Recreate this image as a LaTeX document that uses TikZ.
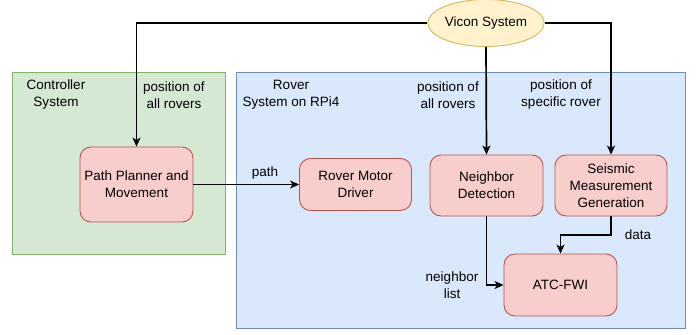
\documentclass[tikz,border=0pt]{standalone}
\usepackage{fontspec}
\setmainfont{Liberation Sans}
\usetikzlibrary{arrows.meta,shapes.geometric}
\definecolor{grfill}{HTML}{D5E8D4}\definecolor{grline}{HTML}{82B366}
\definecolor{blfill}{HTML}{DAE8FC}\definecolor{blline}{HTML}{6C8EBF}
\definecolor{rdfill}{HTML}{F8CECC}\definecolor{rdline}{HTML}{B85450}
\definecolor{ylfill}{HTML}{FFF2CC}\definecolor{ylline}{HTML}{D6B656}
\tikzset{
  txt/.style={font=\fontsize{13.5}{17}\selectfont, align=center, inner sep=0pt},
  group/.style={draw, line width=0.9pt, inner sep=0pt},
  block/.style={txt, draw=rdline, fill=rdfill, line width=0.9pt, rounded corners=11pt},
  conn/.style={line width=1.7pt, -{Stealth[length=9pt,width=8pt,inset=2.5pt]}},
  lbl/.style={txt}
}
\begin{document}
\begin{tikzpicture}[x=1pt,y=-1pt]
\useasboundingbox (0,0) rectangle (700,334);
% system frames
\draw[group, draw=grline, fill=grfill] (12,72) rectangle (225,254);
\draw[group, draw=blline, fill=blfill] (236,72) rectangle (685,328);
\node[lbl] (ctrl) at (56,95) {Controller\\System};
\node[lbl] (rover) at (291,95) {Rover\\System on RPi4};
% processing blocks
\node[block, minimum width=113pt, minimum height=75pt] (path) at (136.5,184.5) {Path Planner and\\Movement};
\node[block, minimum width=112pt, minimum height=52pt] (motor) at (355.5,184.5) {Rover Motor\\Driver};
\node[block, minimum width=113pt, minimum height=61pt] (neigh) at (486.5,185.5) {Neighbor\\Detection};
\node[block, minimum width=112pt, minimum height=61pt] (seis) at (611,185.5) {Seismic\\Measurement\\Generation};
\node[block, minimum width=113pt, minimum height=62pt] (atc) at (560.5,285) {ATC-FWI};
\node[txt, ellipse, draw=ylline, fill=ylfill, line width=0.9pt, minimum width=107pt, minimum height=47pt] (vicon) at (486,23) {Vicon System};
% connectors
\coordinate (bend) at (611,235);
\draw[conn] (vicon.west) -| (path.north);
\draw[conn] (vicon.south) -- (neigh.north);
\draw[conn] (vicon.east) -| (seis.north);
\draw[conn] (path.east) -- (motor.west);
\draw[conn] (neigh.south) |- (atc.west);
\draw[conn] (seis.south) -- (bend) -| (atc.north);
% connector labels
\node[lbl] (lpos1) at (174,95) {position of\\all rovers};
\node[lbl] (lpos2) at (448,95) {position of\\all rovers};
\node[lbl] (lpos3) at (561,95) {position of\\specific rover};
\node[lbl] (lpath) at (265,173) {path};
\node[lbl] (ldata) at (638,235) {data};
\node[lbl] (llist) at (452,285) {neighbor\\list};
\end{tikzpicture}
\end{document}
